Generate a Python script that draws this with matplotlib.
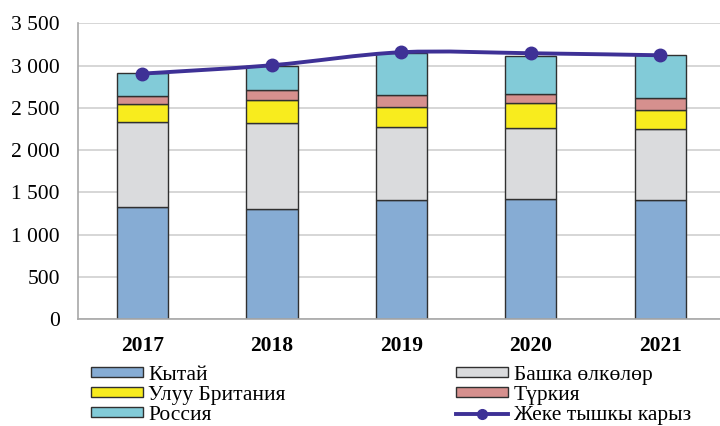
import matplotlib
matplotlib.use("Agg")
from matplotlib import pyplot as plt
from matplotlib.path import Path
from matplotlib.patches import PathPatch
from matplotlib.lines import Line2D

plt.rcParams['font.family'] = ['Liberation Serif', 'DejaVu Serif']

years = ['2017', '2018', '2019', '2020', '2021']

# stacked parts (млн долл.)
kytai = [1323, 1303, 1409, 1418, 1409]
bashka = [1007, 1015, 869, 848, 838]
britania = [213, 279, 233, 289, 232]
turkiya = [95, 112, 142, 106, 142]
rossiya = [273, 291, 494, 458, 502]

# жеке тышкы карыз
karyz = [2906, 3005, 3159, 3147, 3123]

series = [
    (kytai, 'Кытай', '#86acd4'),
    (bashka, 'Башка өлкөлөр', '#dadbdd'),
    (britania, 'Улуу Британия', '#f8ec1e'),
    (turkiya, 'Түркия', '#d6908e'),
    (rossiya, 'Россия', '#82cbd8'),
]
line_color = '#3e3196'

fig = plt.figure(figsize=(7.2, 4.26), dpi=100)
ax = fig.add_axes([0.108, 0.251, 1.007 - 0.108, 0.945 - 0.251])

x = list(range(len(years)))
bottom = [0] * len(years)
bars = {}
for values, label, color in series:
    bars[label] = ax.bar(x, values, width=0.395, bottom=bottom, color=color,
                         edgecolor='#303030', linewidth=1.0, label=label, zorder=2)
    bottom = [b + v for b, v in zip(bottom, values)]

# сглаженная линия как в Excel (кривые Безье через точки)
pts = list(zip(x, karyz))
verts = [pts[0]]
codes = [Path.MOVETO]
for i in range(len(pts) - 1):
    p0 = pts[i - 1] if i > 0 else pts[i]
    p1 = pts[i]
    p2 = pts[i + 1]
    p3 = pts[i + 2] if i + 2 < len(pts) else pts[i + 1]
    c1 = (p1[0] + (p2[0] - p0[0]) / 6, p1[1] + (p2[1] - p0[1]) / 6)
    c2 = (p2[0] - (p3[0] - p1[0]) / 6, p2[1] - (p3[1] - p1[1]) / 6)
    verts += [c1, c2, p2]
    codes += [Path.CURVE4, Path.CURVE4, Path.CURVE4]
ax.add_patch(PathPatch(Path(verts, codes), facecolor='none', edgecolor=line_color,
                       linewidth=2.8, capstyle='round', zorder=4))
ax.plot(x, karyz, linestyle='none', marker='o', markersize=9,
        color=line_color, zorder=5)

ax.set_xlim(-0.5, 4.5)
ax.set_ylim(0, 3500)
ax.set_yticks([0, 500, 1000, 1500, 2000, 2500, 3000, 3500])
ax.set_yticklabels(['0', '500', '1 000', '1 500', '2 000', '2 500', '3 000', '3 500'],
                   fontsize=15.5)
ax.set_xticks(x)
ax.set_xticklabels(years, fontsize=15.5, fontweight='bold')
ax.tick_params(axis='both', length=0)
ax.tick_params(axis='y', pad=13)
ax.tick_params(axis='x', pad=12)

ax.grid(axis='y', color='#d0d0d0', linewidth=1.2, zorder=0)
ax.set_axisbelow(True)
for side in ['top', 'right']:
    ax.spines[side].set_visible(False)
ax.spines['left'].set_color('#a8a8a8')
ax.spines['bottom'].set_color('#a8a8a8')
ax.spines['left'].set_linewidth(1.2)
ax.spines['bottom'].set_linewidth(1.2)

line_handle = Line2D([], [], color=line_color, linewidth=2.8, marker='o', markersize=7)

leg_opts = dict(loc='upper left', frameon=False, fontsize=15.5, handlelength=2.4,
                handleheight=0.33, handletextpad=0.25, labelspacing=0.06,
                borderpad=0, borderaxespad=0)
leg1 = fig.legend([bars['Кытай'], bars['Улуу Британия'], bars['Россия']],
                  ['Кытай', 'Улуу Британия', 'Россия'],
                  bbox_to_anchor=(0.127, 0.142), **leg_opts)
leg2 = fig.legend([bars['Башка өлкөлөр'], bars['Түркия'], line_handle],
                  ['Башка өлкөлөр', 'Түркия', 'Жеке тышкы карыз'],
                  bbox_to_anchor=(0.634, 0.142), **leg_opts)

plt.savefig("out.png", dpi=100)
